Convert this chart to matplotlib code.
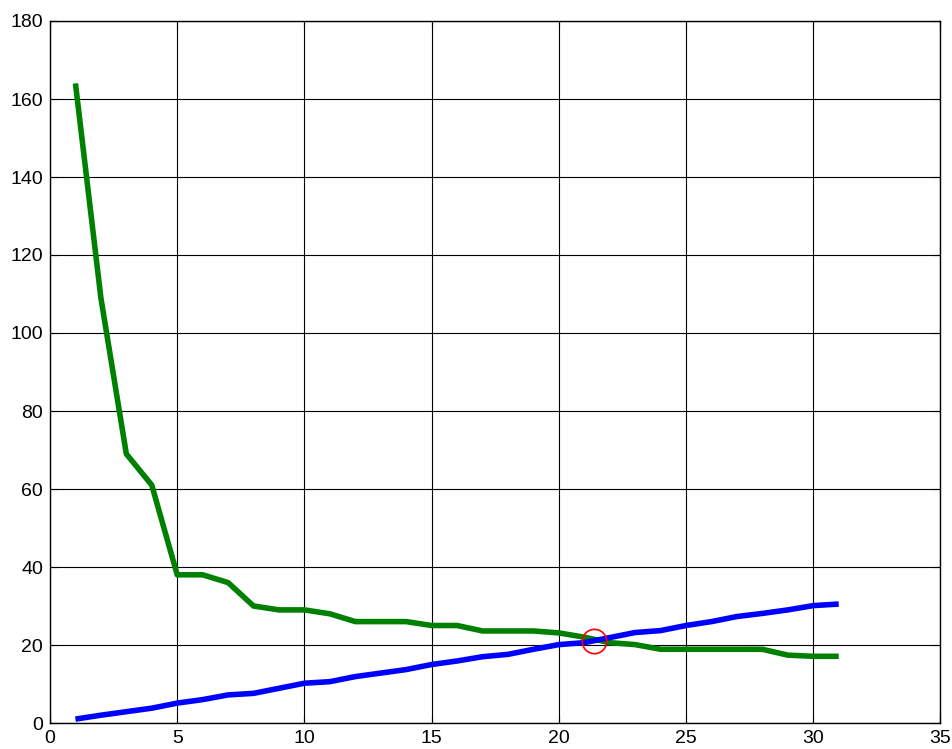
import matplotlib.pyplot as plt
import numpy as np

plt.rcParams['font.family'] = ['Liberation Sans', 'DejaVu Sans']

x = np.arange(1, 32)
green = [164, 109, 69, 61, 38, 38, 36, 30, 29, 29, 28, 26, 26, 26, 25, 25,
         23.6, 23.6, 23.6, 23.1, 22, 20.6, 20.1, 18.9, 18.9, 18.9, 18.9, 18.9,
         17.4, 17.1, 17.1]
blue = [1.0, 2.0, 2.9, 3.8, 5.1, 6.0, 7.2, 7.6, 8.9, 10.2, 10.6, 11.9, 12.8,
        13.7, 15.0, 15.9, 17.0, 17.6, 18.9, 20.1, 20.6, 21.9, 23.2, 23.7,
        25.0, 26.0, 27.3, 28.1, 29.0, 30.1, 30.5]
cross_x, cross_y = 21.4, 21.0

fig = plt.figure(figsize=(9.53, 7.49), dpi=100)
ax = fig.add_axes([50/953, 26/749, 890.5/953, 702/749])

ax.plot(x, green, color=(0, 0.5, 0), lw=4.0, solid_capstyle='butt', zorder=3)
ax.plot(x, blue, color=(0, 0, 1), lw=4.0, solid_capstyle='butt', zorder=3)
ax.plot([cross_x], [cross_y], 'o', mfc='none', mec='red', ms=17.5, mew=1.2, zorder=4)

ax.set_xlim(0, 35)
ax.set_ylim(0, 180)
ax.set_xticks(np.arange(0, 36, 5))
ax.set_yticks(np.arange(0, 181, 20))
ax.grid(True, color='black', lw=0.8, ls='-')
ax.set_axisbelow(True)
ax.tick_params(direction='in', length=6, width=0.8, top=True, right=True,
               labelsize=14, pad=5)
for s in ax.spines.values():
    s.set_linewidth(1.0)

fig.savefig('out.png', dpi=100)
